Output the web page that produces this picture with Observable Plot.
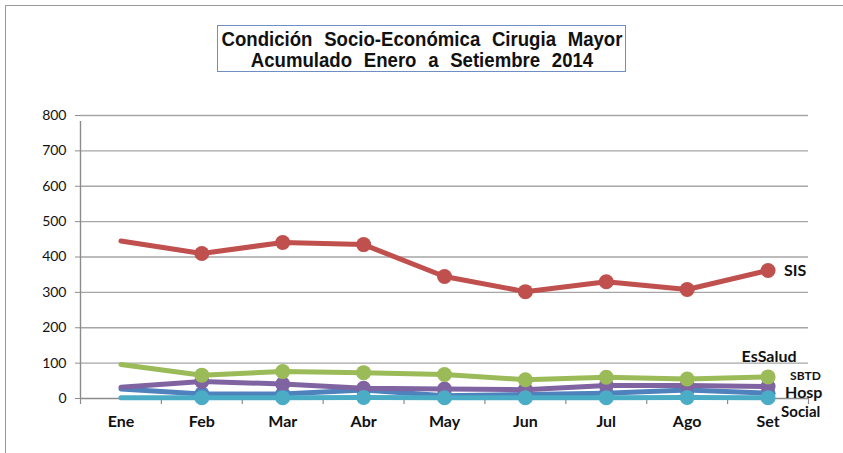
<!DOCTYPE html>
<html><head><meta charset="utf-8">
<script src="https://cdn.jsdelivr.net/npm/d3@7"></script>
<script src="https://cdn.jsdelivr.net/npm/@observablehq/plot@0.6"></script>
<style>
html,body{margin:0;padding:0;background:#fff;overflow:hidden}
#wrap{position:relative;width:843px;height:453px}
#frame{position:absolute;left:5px;top:5px;width:900px;height:500px;border:1.5px solid #9a9a9a;box-sizing:border-box}
#title{position:absolute;left:217px;top:25px;width:409px;height:47px;border:1px solid #6f8fc4;box-sizing:border-box;
 font-family:"Liberation Sans",Arial,sans-serif;font-weight:bold;font-size:20px;line-height:21px;
 color:#111;background:#fff;white-space:nowrap}
#title span{position:absolute;left:50%;transform:translateX(-50%) scaleX(0.93);word-spacing:7px}
#chart{position:absolute;left:0;top:0}
</style></head>
<body><div id="wrap"><div id="frame"></div><div id="chart"></div>
<div id="title"><span style="top:3px">Condición Socio-Económica Cirugia Mayor</span><span style="top:24px">Acumulado Enero a Setiembre 2014</span></div></div>
<script>
const months = ["Ene","Feb","Mar","Abr","May","Jun","Jul","Ago","Set"];
const yTicks = [0,100,200,300,400,500,600,700,800];
const seriesNames = ["Hosp","SBTD","Social","EsSalud","SIS"];
const SIS     = [445,410,441,435,345,302,330,308,362];
const EsSalud = [96,66,76,73,68,53,60,55,61];
const SBTD    = [32,48,41,29,27,25,37,37,34];
const Hosp    = [27,13,13,24,8,11,15,24,15];
const Social  = [2,2,2,3,2,2,2,3,2];
const values = {SIS, EsSalud, SBTD, Hosp, Social};
const colors = {SIS:"#C0504D", EsSalud:"#9BBB59", SBTD:"#8064A2", Hosp:"#4F81BD", Social:"#4BACC6"};
const labelStyle = {
  SIS:{dx:16,dy:0,anchor:"start",size:16},
  EsSalud:{dx:1,dy:-20,anchor:"middle",size:16},
  SBTD:{dx:22,dy:-10,anchor:"start",size:12},
  Hosp:{dx:17,dy:0,anchor:"start",size:16},
  Social:{dx:13,dy:14,anchor:"start",size:15}
};
const rows = seriesNames.flatMap(s => values[s].map((v,i)=>({s, i, v})));
const bounds = d3.range(months.length+1).map(i=>i-0.5);
const marks = [
  Plot.ruleY(yTicks.filter(d=>d>0), {y:d=>d, stroke:"#a6a6a6", strokeWidth:1.4}),
  Plot.axisY({ticks:yTicks, tickSize:5, tickPadding:9, stroke:"#8c8c8c", fontSize:14, label:null}),
  Plot.ruleX([-0.5], {x:d=>d, y1:0, y2:800, stroke:"#8c8c8c", strokeWidth:1.4, insetBottom:-6}),
  Plot.ruleX(bounds, {x:d=>d, y1:0, y2:0, stroke:"#8c8c8c", strokeWidth:1.2, insetBottom:-6}),
  Plot.axisX({ticks:d3.range(months.length), tickFormat:i=>months[i], tickSize:0, tickPadding:17, fontSize:16, fontWeight:"bold", label:null}),
  Plot.ruleY([0], {y:d=>d, stroke:"#8c8c8c", strokeWidth:1.6})
];
for (const s of seriesNames) {
  const d = rows.filter(r=>r.s===s);
  marks.push(Plot.line(d, {x:"i", y:"v", stroke:colors[s], strokeWidth:5, curve:"linear"}));
  marks.push(Plot.dot(d.filter(r=>r.i>0), {x:"i", y:"v", r:7.5, fill:colors[s], stroke:"none"}));
}
for (const s of seriesNames) {
  const L = labelStyle[s];
  marks.push(Plot.text([values[s][8]], {x:()=>8, y:d=>d, text:()=>s, dx:L.dx, dy:L.dy, textAnchor:L.anchor,
    fontSize:L.size, fontWeight:"bold", fill:"#111"}));
}
const plot = Plot.plot({
  width:843, height:453, marginLeft:80, marginRight:35, marginTop:115, marginBottom:55,
  style:{fontFamily:"Lato, 'Open Sans', sans-serif", color:"#111", background:"transparent", overflow:"visible"},
  x:{type:"linear", domain:[-0.5, 8.5], axis:null},
  y:{type:"linear", domain:[0,800], axis:null},
  marks
});
document.getElementById("chart").append(plot);
</script></body></html>
